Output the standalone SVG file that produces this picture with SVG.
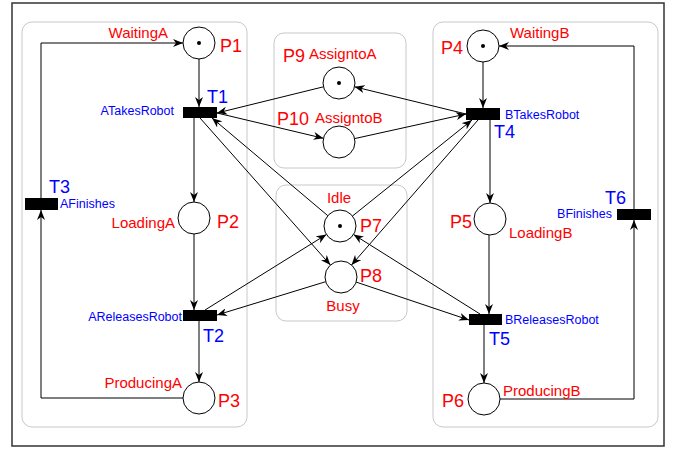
<svg xmlns="http://www.w3.org/2000/svg" width="677" height="450" viewBox="0 0 677 450">
<defs>
<marker id="arr" viewBox="0 0 10 8" refX="10" refY="4" markerWidth="10" markerHeight="8" markerUnits="userSpaceOnUse" orient="auto">
<path d="M0,0 L10,4 L0,8 L3,4 Z" fill="#000"/>
</marker>
<style>
.grp{fill:none;stroke:#c8c8c8;stroke-width:1}
.pl{fill:#fff;stroke:#000;stroke-width:1}
.tr{fill:#000}
.tok{fill:#000}
.arc{fill:none;stroke:#000;stroke-width:1;marker-end:url(#arr)}
.red{fill:#ff0000;font-family:"Liberation Sans",Arial,Helvetica,sans-serif;font-size:15px}
.blue{fill:#0000ff;font-family:"Liberation Sans",Arial,Helvetica,sans-serif;font-size:12.5px}
.redL{fill:#ff0000;font-family:"Liberation Sans",Arial,Helvetica,sans-serif;font-size:18px}
.blueL{fill:#0000ff;font-family:"Liberation Sans",Arial,Helvetica,sans-serif;font-size:18px}
</style>
</defs>
<rect x="0" y="0" width="677" height="450" fill="#fff"/>
<rect x="12" y="3" width="652" height="443" fill="none" stroke="#333" stroke-width="1.5"/>
<g id="groups">
<rect class="grp" x="22" y="22" width="225" height="405" rx="10"/>
<rect class="grp" x="274" y="33" width="132" height="135" rx="10"/>
<rect class="grp" x="276" y="185" width="131" height="136" rx="10"/>
<rect class="grp" x="433" y="22" width="225" height="405" rx="10"/>
</g>
<g id="connectors">
<path class="arc" d="M199,59 L199,107"/>
<path class="arc" d="M194,118 L194,202"/>
<path class="arc" d="M194,234 L194,310"/>
<path class="arc" d="M199,321 L199,382"/>
<path class="arc" d="M183,398 L41,398 L41,210"/>
<path class="arc" d="M41,198 L41,43 L183,43"/>
<path class="arc" d="M483,62 L483,108"/>
<path class="arc" d="M490,120 L490,203"/>
<path class="arc" d="M489,235 L489,314"/>
<path class="arc" d="M484,325 L484,383"/>
<path class="arc" d="M500,399 L634,399 L634,220"/>
<path class="arc" d="M634,209 L634,46 L499,46"/>
<path class="arc" d="M323.5,86.8 L217,113"/>
<path class="arc" d="M217,113 L323.4,138.3"/>
<path class="arc" d="M466,114 L354.5,86.8"/>
<path class="arc" d="M354.6,138.6 L466,114"/>
<path class="arc" d="M327.8,215.7 L212,118"/>
<path class="arc" d="M200,118 L330.4,265"/>
<path class="arc" d="M205,310 L326.4,234.5"/>
<path class="arc" d="M325.7,281.7 L217,315"/>
<path class="arc" d="M352.5,216 L472,120"/>
<path class="arc" d="M478,120 L351.5,265"/>
<path class="arc" d="M480,314 L353.5,234.5"/>
<path class="arc" d="M356.2,282.1 L469,320"/>
</g>
<g id="P1"><circle class="pl" cx="199" cy="43" r="16"/><circle class="tok" cx="199" cy="43" r="2"/><text class="red" x="168" y="38" text-anchor="end">WaitingA</text><text class="redL" x="220" y="52">P1</text></g>
<g id="P2"><circle class="pl" cx="194" cy="218" r="16"/><text class="red" x="175" y="228" text-anchor="end">LoadingA</text><text class="redL" x="217" y="228">P2</text></g>
<g id="P3"><circle class="pl" cx="199" cy="398" r="16"/><text class="red" x="182" y="388" text-anchor="end">ProducingA</text><text class="redL" x="218" y="407">P3</text></g>
<g id="P4"><circle class="pl" cx="483" cy="46" r="16"/><circle class="tok" cx="483" cy="46" r="2"/><text class="red" x="510" y="38">WaitingB</text><text class="redL" x="441" y="54">P4</text></g>
<g id="P5"><circle class="pl" cx="490" cy="219" r="16"/><text class="red" x="509" y="238">LoadingB</text><text class="redL" x="450" y="228">P5</text></g>
<g id="P6"><circle class="pl" cx="484" cy="399" r="16"/><text class="red" x="503" y="396">ProducingB</text><text class="redL" x="442" y="407">P6</text></g>
<g id="P7"><circle class="pl" cx="340" cy="226" r="16"/><circle class="tok" cx="340" cy="226" r="2"/><text class="red" x="339" y="203" text-anchor="middle">Idle</text><text class="redL" x="360" y="232">P7</text></g>
<g id="P8"><circle class="pl" cx="341" cy="277" r="16"/><text class="red" x="343" y="311" text-anchor="middle">Busy</text><text class="redL" x="360" y="282">P8</text></g>
<g id="P9"><circle class="pl" cx="339" cy="83" r="16"/><circle class="tok" cx="339" cy="83" r="2"/><text class="redL" x="283" y="62">P9</text><text class="red" x="309" y="59">AssigntoA</text></g>
<g id="P10"><circle class="pl" cx="339" cy="142" r="16"/><text class="redL" x="277" y="125">P10</text><text class="red" x="315" y="123">AssigntoB</text></g>
<g id="T1"><rect class="tr" x="183" y="107" width="34" height="11"/><text class="blue" x="174" y="115" text-anchor="end">ATakesRobot</text><text class="blueL" x="207" y="103">T1</text></g>
<g id="T2"><rect class="tr" x="183" y="310" width="34" height="11"/><text class="blue" x="182" y="321" text-anchor="end">AReleasesRobot</text><text class="blueL" x="203" y="342">T2</text></g>
<g id="T3"><rect class="tr" x="25" y="198" width="33" height="12"/><text class="blueL" x="49" y="193">T3</text><text class="blue" x="60" y="208">AFinishes</text></g>
<g id="T4"><rect class="tr" x="466" y="108" width="34" height="12"/><text class="blue" x="505" y="119">BTakesRobot</text><text class="blueL" x="494" y="138">T4</text></g>
<g id="T5"><rect class="tr" x="469" y="314" width="33" height="11"/><text class="blue" x="505" y="324">BReleasesRobot</text><text class="blueL" x="489" y="345">T5</text></g>
<g id="T6"><rect class="tr" x="617" y="209" width="34" height="11"/><text class="blueL" x="605" y="204">T6</text><text class="blue" x="612" y="218" text-anchor="end">BFinishes</text></g>
</svg>
